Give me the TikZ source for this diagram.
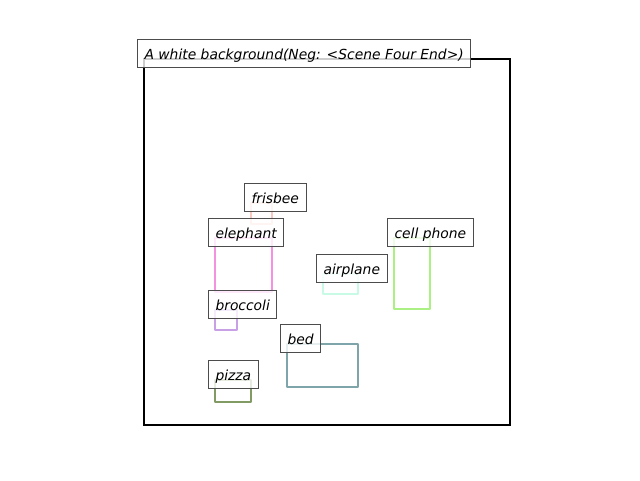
\documentclass[tikz,border=0pt]{standalone}
\usepackage{fontspec}
\setmainfont{DejaVu Sans}
\definecolor{frisbeecol}{RGB}{250,200,190}
\definecolor{elephantcol}{RGB}{245,145,225}
\definecolor{broccolicol}{RGB}{200,160,230}
\definecolor{airplanecol}{RGB}{200,250,230}
\definecolor{phonecol}{RGB}{170,240,130}
\definecolor{bedcol}{RGB}{125,165,170}
\definecolor{pizzacol}{RGB}{130,155,100}
\tikzset{
	tag/.style={
		rectangle,
		sharp corners,
		fill=white, fill opacity=0.8, text opacity=1,
		draw=black!70, line width=0.75pt,
		anchor=base west,
		xshift=-5.25pt,
		inner xsep=5.25pt, inner ysep=3pt,
		text height=11.5pt, text depth=3.6pt,
		font=\fontsize{10.4}{12}\selectfont\itshape},
	region/.style={
		line width=1.9pt,
		line join=round}
}
\begin{document}
\begin{tikzpicture}
[x=0.75pt, y=-0.75pt]
\useasboundingbox (0,0) rectangle (640,480);
\draw[line width=1.5pt] (144,59) rectangle (510,425);
\draw[region, frisbeecol] (251,203) rectangle (272,224);
\draw[region, elephantcol] (215,238) rectangle (272,292);
\draw[region, broccolicol] (215,310) rectangle (237,330);
\draw[region, airplanecol] (323,274) rectangle (358,294);
\draw[region, phonecol] (394,238) rectangle (430,309);
\draw[region, bedcol] (287,344) rectangle (358,387);
\draw[region, pizzacol] (215,380) rectangle (251,402);
\node[tag] (title) at (144,59) {A white background(Neg: <Scene Four End>)};
\node[tag] (frisbee) at (251,203) {frisbee};
\node[tag] (elephant) at (215,238) {elephant};
\node[tag] (broccoli) at (215,310) {broccoli};
\node[tag] (airplane) at (323,274) {airplane};
\node[tag] (phone) at (394,238) {cell phone};
\node[tag] (bed) at (287,344) {bed};
\node[tag] (pizza) at (215,380) {pizza};
\end{tikzpicture}
\end{document}
